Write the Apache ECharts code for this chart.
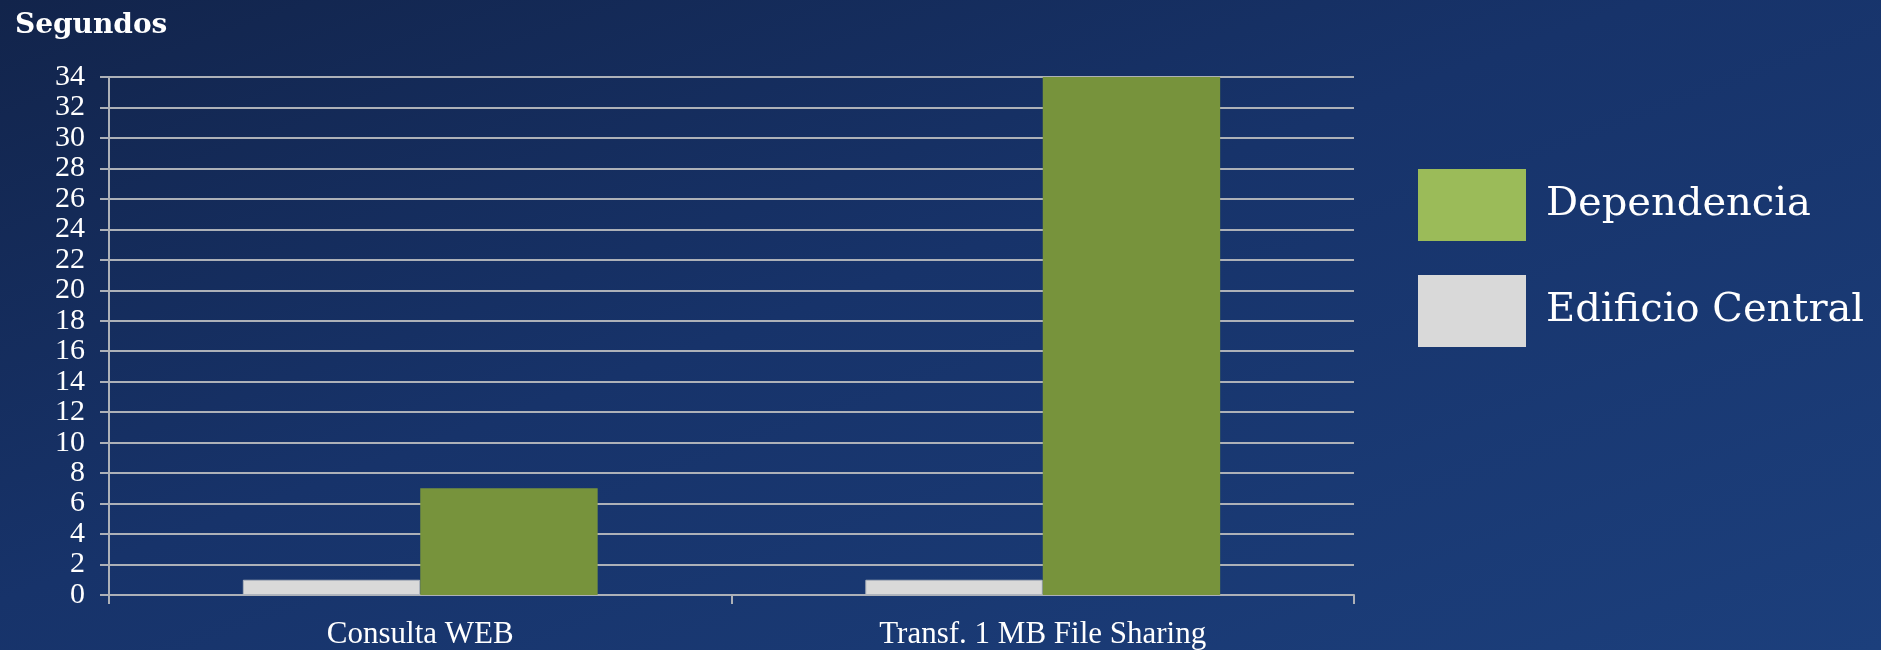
<!DOCTYPE html>
<html>
<head>
<meta charset="utf-8">
<script src="https://cdn.jsdelivr.net/npm/echarts@6/dist/echarts.min.js"></script>
<style>
  html, body { margin: 0; padding: 0; }
  body {
    width: 1881px; height: 650px; overflow: hidden;
    background: linear-gradient(160deg, #12244b 0%, #17336a 45%, #1c3f7c 100%);
  }
  #chart { width: 1881px; height: 650px; }
</style>
</head>
<body>
<div id="chart"></div>
<script>
// Response times in seconds per test
const categories = ['Consulta WEB', 'Transf. 1 MB File Sharing'];
const edificioCentral = [1, 1];
const dependencia = [7, 34];
const yMin = 0, yMax = 34, yStep = 2;

const chart = echarts.init(document.getElementById('chart'), null, { renderer: 'canvas' });

const gridColor = '#adb1b8';

chart.setOption({
  backgroundColor: 'transparent',
  animation: false,
  title: {
    text: 'Segundos',
    left: 10, top: 7,
    textStyle: { color: '#ffffff', fontFamily: 'DejaVu Serif', fontWeight: 'bold', fontSize: 28 }
  },
  legend: {
    orient: 'vertical',
    left: 1413, top: 164,
    itemWidth: 108, itemHeight: 72, itemGap: 34,
    icon: 'rect',
    itemStyle: { borderWidth: 0 },
    data: [
      { name: 'Dependencia', itemStyle: { color: '#9bbb59', borderWidth: 0 } },
      { name: 'Edificio Central', itemStyle: { color: '#d9d9d9', borderWidth: 0 } }
    ],
    textStyle: { color: '#ffffff', fontFamily: 'DejaVu Serif', fontSize: 40, padding: [6, 0, 0, 15] }
  },
  grid: { left: 109, right: 527, top: 77, bottom: 55, containLabel: false },
  xAxis: {
    type: 'category',
    data: categories,
    axisLine: { show: true, lineStyle: { color: gridColor, width: 2 } },
    axisTick: { show: true, length: 9, lineStyle: { color: gridColor, width: 2 } },
    axisLabel: { color: '#ffffff', fontFamily: 'Liberation Serif', fontSize: 31, margin: 24 }
  },
  yAxis: {
    type: 'value',
    min: yMin, max: yMax, interval: yStep,
    axisLine: { show: true, lineStyle: { color: gridColor, width: 2 } },
    axisTick: { show: true, length: 9, lineStyle: { color: gridColor, width: 2 } },
    splitLine: { show: true, lineStyle: { color: gridColor, width: 2 } },
    axisLabel: { color: '#ffffff', fontFamily: 'Liberation Serif', fontSize: 30, margin: 24 }
  },
  series: [
    {
      name: 'Edificio Central',
      type: 'bar',
      data: edificioCentral,
      barGap: '0%',
      barCategoryGap: '43%',
      itemStyle: { color: '#d9d9d9', borderColor: '#aeb4bd', borderWidth: 1 }
    },
    {
      name: 'Dependencia',
      type: 'bar',
      data: dependencia,
      itemStyle: { color: '#77933c' }
    }
  ]
});
</script>
</body>
</html>
